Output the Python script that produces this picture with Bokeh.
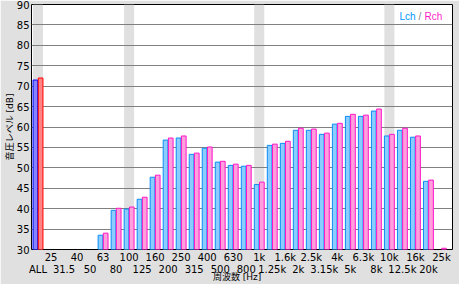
import math
from bokeh.plotting import figure
from bokeh.models import (ColumnDataSource, Range1d, LinearAxis, FixedTicker, Label)
from bokeh.embed import file_html
from bokeh.resources import INLINE

NAN = float("nan")

# ---- data ----
categories = ["ALL", "25", "31.5", "40", "50", "63", "80", "100", "125", "160",
              "200", "250", "315", "400", "500", "630", "800", "1k", "1.25k", "1.6k",
              "2k", "2.5k", "3.15k", "4k", "5k", "6.3k", "8k", "10k", "12.5k", "16k",
              "20k", "25k"]
lch = [71.5, NAN, NAN, NAN, NAN, 33.5, 39.6, 39.9, 42.3, 47.7,
       56.8, 57.3, 53.3, 54.8, 51.4, 50.6, 50.4, 45.9, 55.5, 56.0,
       59.2, 59.2, 58.2, 60.7, 62.6, 62.6, 63.9, 57.8, 59.2, 57.5,
       46.7, NAN]
rch = [72.0, NAN, NAN, NAN, NAN, 34.0, 40.1, 40.4, 42.8, 48.2,
       57.3, 57.8, 53.6, 55.1, 51.6, 50.9, 50.6, 46.5, 55.8, 56.5,
       59.7, 59.5, 58.5, 60.9, 63.1, 62.9, 64.4, 58.2, 59.7, 57.8,
       47.0, 30.3]
band_categories = ["ALL", "100", "1k", "10k"]
y_ticks = [30, 35, 40, 45, 50, 55, 60, 65, 70, 75, 80, 85, 90]
x_title = "周波数 [Hz]"
y_title = "音圧レベル [dB]"

# ---- styles ----
BG = "#e0e0e0"
L_LINE, L_FILL = "#0a8cf5", "#8ccdff"
R_LINE, R_FILL = "#ff14c8", "#ffa0dc"
ALL_L_LINE, ALL_L_FILL = "#0000ff", "#8484ff"
ALL_R_LINE, ALL_R_FILL = "#ff0000", "#ff8484"
NUM_FONT = "DejaVu Sans"
JP_FONT = "DejaVu Sans, Noto Sans CJK JP"

idx = list(range(len(categories)))
off = 0.2
bw = 0.36

src_l = ColumnDataSource(dict(
    x=[i - off for i in idx], top=lch,
    line=[ALL_L_LINE if c == "ALL" else L_LINE for c in categories],
    fill=[ALL_L_FILL if c == "ALL" else L_FILL for c in categories]))
src_r = ColumnDataSource(dict(
    x=[i + off for i in idx], top=rch,
    line=[ALL_R_LINE if c == "ALL" else R_LINE for c in categories],
    fill=[ALL_R_FILL if c == "ALL" else R_FILL for c in categories]))
src_band = ColumnDataSource(dict(x=[categories.index(c) for c in band_categories]))

x_lo, x_hi = -0.5, 31.85
y_lo, y_hi = 30, 90

p = figure(width=459, height=284, output_backend="svg", toolbar_location=None,
           x_range=Range1d(x_lo, x_hi), y_range=Range1d(y_lo, y_hi),
           x_axis_location=None, y_axis_location=None,
           min_border_left=31, min_border_right=7, min_border_top=4, min_border_bottom=35)
p.background_fill_color = "white"
p.border_fill_color = BG
p.outline_line_color = "black"
p.outline_line_width = 1

# bands
p.vbar(x="x", width=0.77, bottom=y_lo, top=y_hi, source=src_band,
       fill_color=BG, line_color=None, level="image")

# bars
p.vbar(x="x", width=bw, bottom=0, top="top", source=src_l,
       fill_color="fill", line_color="line", line_width=1)
p.vbar(x="x", width=bw, bottom=0, top="top", source=src_r,
       fill_color="fill", line_color="line", line_width=1)


def bare_axis(ticks, labels, standoff, font, size="10px", **kw):
    ax = LinearAxis(ticker=FixedTicker(ticks=ticks),
                    major_label_overrides=dict(zip(ticks, labels)), **kw)
    ax.axis_line_color = None
    ax.major_tick_out = 0
    ax.major_tick_in = 0
    ax.minor_tick_out = 0
    ax.minor_tick_in = 0
    ax.major_label_standoff = standoff
    ax.major_label_text_font = font
    ax.major_label_text_font_size = size
    ax.major_label_text_color = "black"
    return ax


# y axis: tick labels, then title as a second axis
ya = bare_axis(y_ticks, [str(t) for t in y_ticks], 2, NUM_FONT)
p.add_layout(ya, "left")
y_mid = (y_lo + y_hi) / 2
yt = bare_axis([y_mid], [y_title], -1, JP_FONT, size="9px", major_label_orientation="vertical")
p.add_layout(yt, "left")

# grid
p.xgrid.visible = False
p.ygrid.ticker = FixedTicker(ticks=y_ticks)
p.ygrid.grid_line_color = "#808080"
p.ygrid.grid_line_width = 1

# x axes: two staggered rows, then title
odd = [i for i in idx if i % 2 == 1]
even = [i for i in idx if i % 2 == 0]
p.add_layout(bare_axis(odd, [categories[i] for i in odd], 2, NUM_FONT), "below")
p.add_layout(bare_axis(even, [categories[i] for i in even], -2, NUM_FONT), "below")
x_mid = 15.3
p.add_layout(bare_axis([x_mid], [x_title], -6, JP_FONT, size="9px"), "below")

# legend text
for tx, xx, col in (("Lch", 368, "#0096ff"), ("/", 387, "#808080"), ("Rch", 393, "#ff1ec8")):
    p.add_layout(Label(x=xx, y=233, x_units="screen", y_units="screen",
                       text=tx, text_align="left", text_baseline="middle",
                       text_font="Liberation Sans", text_font_size="10px", text_color=col))

open("out.html", "w").write(file_html(p, INLINE))
